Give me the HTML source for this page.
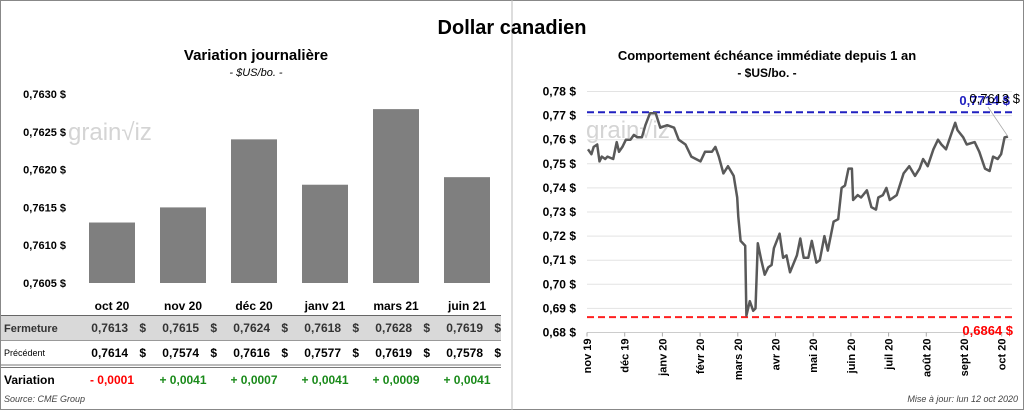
<!DOCTYPE html>
<html><head><meta charset="utf-8"><style>
body{margin:0;width:1024px;height:410px;background:#fff;font-family:"Liberation Sans",sans-serif;overflow:hidden}
svg text{font-family:"Liberation Sans",sans-serif}
</style></head><body>
<svg id="c" width="1024" height="410" xmlns="http://www.w3.org/2000/svg">
<rect x="0.5" y="0.5" width="1023" height="409" fill="#fff" stroke="#888"/>
<line x1="512" y1="0" x2="512" y2="410" stroke="#bbb"/>
<text x="512" y="34" text-anchor="middle" font-size="20" font-weight="bold">Dollar canadien</text>
<text x="256" y="60" text-anchor="middle" font-size="15" font-weight="bold">Variation  journalière</text>
<text x="256" y="76" text-anchor="middle" font-size="11" font-style="italic">- $US/bo. -</text>
<text x="767" y="60" text-anchor="middle" font-size="13" font-weight="bold">Comportement échéance immédiate depuis 1 an</text>
<text x="767" y="77" text-anchor="middle" font-size="12" font-weight="bold">- $US/bo. -</text>
<text x="68" y="140" font-size="24" fill="#d4d4d4">grain√iz</text>
<text x="586" y="138" font-size="24" fill="#d4d4d4">grain√iz</text>
<g id="left"></g><g id="right"></g><g id="table"></g>
<text x="4" y="402" font-size="9" font-style="italic" fill="#444">Source: CME Group</text>
<text x="1018" y="402" text-anchor="end" font-size="9" font-style="italic" fill="#444">Mise à jour: lun 12 oct 2020</text>
</svg>
<script>
const NS="http://www.w3.org/2000/svg";
const barCats=["oct 20","nov 20","déc 20","janv 21","mars 21","juin 21"];
const closeVals=[0.7613,0.7615,0.7624,0.7618,0.7628,0.7619];
const prevVals=[0.7614,0.7574,0.7616,0.7577,0.7619,0.7578];
const varLabels=["- 0,0001","+ 0,0041","+ 0,0007","+ 0,0041","+ 0,0009","+ 0,0041"];
const leftTicks=[0.7605,0.7610,0.7615,0.7620,0.7625,0.7630];
const lineDays=[0,3,5,8,10,12,15,17,22,25,27,30,33,37,40,43,47,50,54,59,63,69,75,79,85,90,98,102,108,111,114,118,122,127,130,131,133,137,138,141,144,146,148,151,154,157,160,162,167,170,173,176,182,185,188,192,195,199,202,206,209,214,218,221,224,227,230,231,235,238,243,247,251,253,257,260,263,269,275,280,285,289,292,296,301,305,308,312,317,320,322,327,330,337,341,346,350,353,357,360,363,366];
const lineVals=[0.756,0.754,0.757,0.758,0.751,0.753,0.752,0.753,0.752,0.759,0.755,0.757,0.760,0.760,0.762,0.761,0.761,0.766,0.771,0.771,0.765,0.766,0.765,0.760,0.758,0.753,0.751,0.755,0.755,0.757,0.753,0.746,0.749,0.745,0.736,0.728,0.718,0.716,0.687,0.693,0.689,0.690,0.717,0.710,0.704,0.707,0.708,0.715,0.721,0.711,0.712,0.705,0.712,0.719,0.711,0.711,0.718,0.709,0.710,0.720,0.714,0.726,0.727,0.740,0.741,0.748,0.748,0.735,0.737,0.736,0.739,0.732,0.731,0.736,0.737,0.740,0.735,0.737,0.746,0.749,0.745,0.748,0.752,0.749,0.756,0.760,0.758,0.756,0.763,0.767,0.764,0.761,0.758,0.759,0.755,0.748,0.747,0.753,0.752,0.754,0.761,0.7613];
const rightTicks=[0.68,0.69,0.70,0.71,0.72,0.73,0.74,0.75,0.76,0.77,0.78];
const monthLabels=["nov 19","déc 19","janv 20","févr 20","mars 20","avr 20","mai 20","juin 20","juil 20","août 20","sept 20","oct 20"];
const maxVal=0.7714, minVal=0.6864, lastVal=0.7613;

const fmt=(v,d)=>v.toFixed(d).replace('.',',');
function mk(tag,attrs,parent,text){const e=document.createElementNS(NS,tag);for(const k in attrs)e.setAttribute(k,attrs[k]);if(text!==undefined)e.textContent=text;parent.appendChild(e);return e;}

const L=document.getElementById('left');
const ly=v=>283-(v-0.7605)/(0.0025)*189;
const bx=i=>89+i*71;
leftTicks.forEach(t=>{const e=mk('text',{x:66,y:ly(t)+4,'text-anchor':'end','font-size':11,'font-weight':'bold'},L,fmt(t,4)+' $');

});
closeVals.forEach((v,i)=>{const r=mk('rect',{x:bx(i),y:ly(v),width:46,height:283-ly(v),fill:'#7f7f7f'},L);

});

const T=document.getElementById('table');
mk('rect',{x:1,y:316,width:500,height:24,fill:'#d9d9d9'},T);
mk('line',{x1:1,y1:315.5,x2:501,y2:315.5,stroke:'#666'},T);
mk('line',{x1:1,y1:340.5,x2:501,y2:340.5,stroke:'#999'},T);
mk('line',{x1:1,y1:365,x2:501,y2:365,stroke:'#777'},T);
mk('line',{x1:1,y1:367.5,x2:501,y2:367.5,stroke:'#777'},T);
const rl=[['Fermeture',332,11,'bold'],['Précédent',356,9,'normal'],['Variation',384,12,'bold']];
rl.forEach(r=>{const e=mk('text',{x:4,y:r[1],'font-size':r[2],'font-weight':r[3],fill:r[0]=='Fermeture'?'#333':'#000'},T,r[0]);

});
barCats.forEach((c,i)=>{const cx=bx(i)+23;
let e=mk('text',{x:cx,y:310,'text-anchor':'middle','font-size':12,'font-weight':'bold'},T,c);


e=mk('text',{x:cx+16,y:332,'text-anchor':'end','font-size':12,'font-weight':'bold',fill:'#333'},T,fmt(closeVals[i],4));


mk('text',{x:cx+34,y:332,'text-anchor':'end','font-size':12,'font-weight':'bold',fill:'#333'},T,'$');
e=mk('text',{x:cx+16,y:357,'text-anchor':'end','font-size':12,'font-weight':'bold'},T,fmt(prevVals[i],4));


mk('text',{x:cx+34,y:357,'text-anchor':'end','font-size':12,'font-weight':'bold'},T,'$');
const neg=varLabels[i].charAt(0)=='-';
e=mk('text',{x:cx,y:384,'text-anchor':'middle','font-size':12,'font-weight':'bold',fill:neg?'#ff0000':'#1a8a1a'},T,varLabels[i]);

});

const R=document.getElementById('right');
const ry=v=>91.5+(0.78-v)/0.10*241;
const rx=d=>588+d/366*420;
const mx=i=>587+i*37.7;
rightTicks.forEach(t=>{
const g=mk('line',{x1:587,x2:1012,y1:ry(t),y2:ry(t),stroke:t==0.68?'#ccc':'#e3e3e3'},R);


const e=mk('text',{x:576,y:ry(t)+4,'text-anchor':'end','font-size':12,'font-weight':'bold'},R,fmt(t,2)+' $');

});
monthLabels.forEach((m,i)=>{const x=mx(i);
mk('line',{x1:x,x2:x,y1:ry(0.68),y2:ry(0.68)+4,stroke:'#aaa'},R);
const e=mk('text',{x:0,y:0,'text-anchor':'end','font-size':11,'font-weight':'bold',transform:`translate(${x+4},${ry(0.68)+6}) rotate(-90)`},R,m);

});
let ml=mk('line',{x1:587,x2:1012,y1:ry(maxVal),y2:ry(maxVal),stroke:'#2020c0','stroke-width':2,'stroke-dasharray':'7,4'},R);


let nl=mk('line',{x1:587,x2:1012,y1:ry(minVal),y2:ry(minVal),stroke:'#ff2020','stroke-width':2,'stroke-dasharray':'7,4'},R);


const pts=lineDays.map((d,i)=>rx(d).toFixed(1)+','+ry(lineVals[i]).toFixed(1)).join(' ');
const pl=mk('polyline',{points:pts,fill:'none',stroke:'#595959','stroke-width':2.5,'stroke-linejoin':'round'},R);


mk('line',{x1:988,y1:107,x2:rx(366),y2:ry(lastVal),stroke:'#aaa','stroke-width':0.8},R);
let e=mk('text',{x:1010,y:105,'text-anchor':'end','font-size':13,'font-weight':'bold',fill:'#2020c0'},R,fmt(maxVal,4)+' $');


e=mk('text',{x:1020,y:103,'text-anchor':'end','font-size':13,fill:'#000'},R,fmt(lastVal,4)+' $');


e=mk('text',{x:1013,y:ry(minVal)+18,'text-anchor':'end','font-size':13,'font-weight':'bold',fill:'#ff0000'},R,fmt(minVal,4)+' $');


</script>
</body></html>
